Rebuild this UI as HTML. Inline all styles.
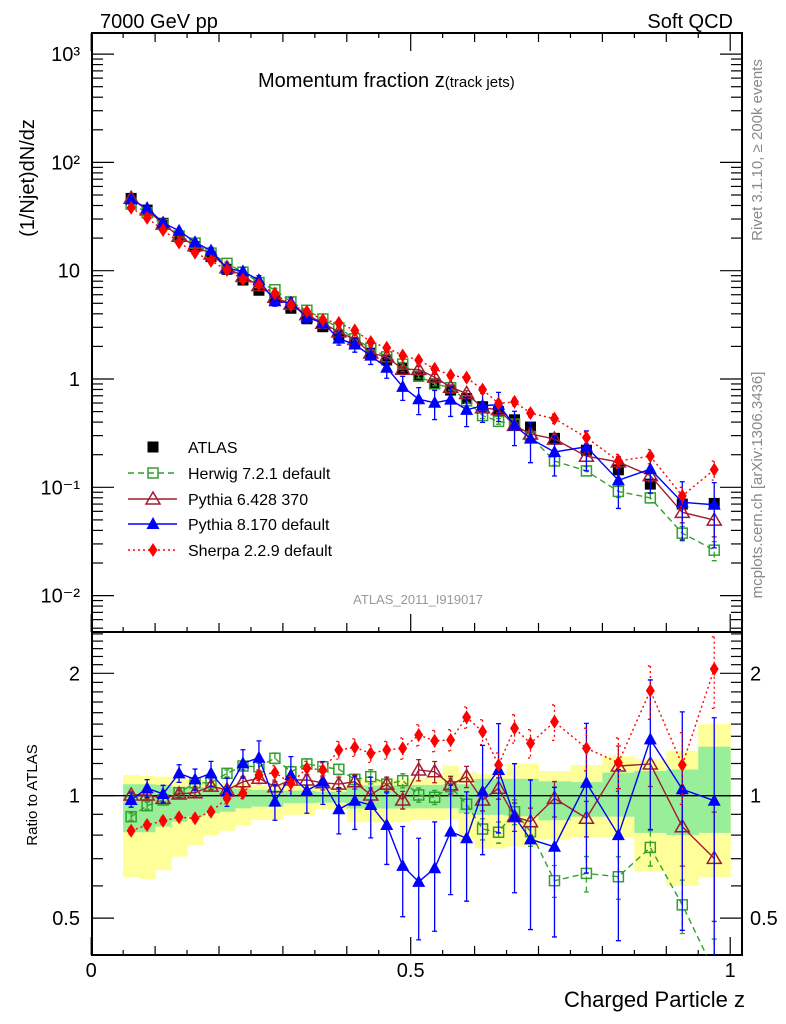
<!DOCTYPE html>
<html><head><meta charset="utf-8">
<style>
html,body{margin:0;padding:0;background:#fff;}
svg{display:block;font-family:"Liberation Sans",sans-serif;}
</style></head>
<body>
<svg id="chart" width="786" height="1024" viewBox="0 0 786 1024" xmlns="http://www.w3.org/2000/svg">
<defs>
<clipPath id="clipMain"><rect x="92" y="33" width="650" height="599"/></clipPath>
<clipPath id="clipRatio"><rect x="92" y="632" width="650" height="323"/></clipPath>
</defs>
<text x="100" y="28" font-size="20">7000 GeV pp</text>
<text x="733" y="28" font-size="20" text-anchor="end">Soft QCD</text>
<text x="258" y="87" font-size="20">Momentum fraction z<tspan font-size="15">(track jets)</tspan></text>
<text transform="translate(34,178) rotate(-90)" font-size="20" text-anchor="middle">(1/Njet)dN/dz</text>
<text transform="translate(762,150) rotate(-90)" font-size="15" fill="#888" text-anchor="middle">Rivet 3.1.10, ≥ 200k events</text>
<text transform="translate(762,485) rotate(-90)" font-size="15" fill="#888" text-anchor="middle">mcplots.cern.ch [arXiv:1306.3436]</text>
<text x="418" y="604" font-size="13" fill="#999" text-anchor="middle">ATLAS_2011_I919017</text>
<text transform="translate(37,795) rotate(-90)" font-size="15" text-anchor="middle">Ratio to ATLAS</text>
<text x="745" y="1007" font-size="22" text-anchor="end">Charged Particle z</text>
<g id="layer"></g>
</svg>
<script>
const xCenters = [0.0625,0.0875,0.1125,0.1375,0.1625,0.1875,0.2125,0.2375,0.2625,0.2875,0.3125,0.3375,0.3625,0.3875,0.4125,0.4375,0.4625,0.4875,0.5125,0.5375,0.5625,0.5875,0.6125,0.6375,0.6625,0.6875,0.725,0.775,0.825,0.875,0.925,0.975];
const xHalfWidths = [0.0125,0.0125,0.0125,0.0125,0.0125,0.0125,0.0125,0.0125,0.0125,0.0125,0.0125,0.0125,0.0125,0.0125,0.0125,0.0125,0.0125,0.0125,0.0125,0.0125,0.0125,0.0125,0.0125,0.0125,0.0125,0.0125,0.025,0.025,0.025,0.025,0.025,0.025];
const atlasValues = [46.5,36.3,27.4,20.6,16.7,13.5,10.3,8.2,6.6,5.4,4.5,3.6,3.04,2.55,2.14,1.73,1.5,1.26,1.06,0.91,0.79,0.66,0.555,0.5,0.42,0.36,0.283,0.22,0.145,0.107,0.07,0.071];
const bandYellowLow = [0.63,0.624,0.656,0.708,0.756,0.8,0.82,0.847,0.871,0.871,0.897,0.897,0.926,0.926,0.86,0.86,0.86,0.86,0.871,0.871,0.871,0.778,0.742,0.742,0.75,0.75,0.78,0.79,0.79,0.65,0.6,0.63];
const bandYellowHigh = [1.124,1.118,1.114,1.104,1.093,1.082,1.076,1.073,1.063,1.063,1.056,1.056,1.052,1.052,1.1,1.1,1.1,1.1,1.104,1.104,1.185,1.14,1.13,1.13,1.2,1.2,1.15,1.19,1.25,1.23,1.29,1.5];
const bandGreenLow = [0.813,0.813,0.839,0.863,0.888,0.905,0.913,0.931,0.94,0.94,0.958,0.958,0.961,0.961,0.93,0.93,0.93,0.93,0.931,0.931,0.931,0.905,0.897,0.897,0.89,0.89,0.87,0.888,0.888,0.81,0.8,0.81];
const bandGreenHigh = [1.067,1.067,1.063,1.052,1.052,1.046,1.043,1.039,1.033,1.033,1.029,1.029,1.023,1.023,1.06,1.06,1.06,1.06,1.063,1.063,1.067,1.067,1.1,1.1,1.1,1.1,1.085,1.08,1.14,1.15,1.16,1.32];
const herwigRatio = [0.888,0.945,0.976,1.017,1.076,1.076,1.135,1.183,1.178,1.236,1.145,1.197,1.178,1.161,1.097,1.114,1.068,1.089,1.004,0.991,1.052,0.953,0.828,0.813,0.913,0.816,0.618,0.644,0.632,0.746,0.539,0.37];
const herwigErr = [0.02,0.02,0.02,0.02,0.02,0.02,0.02,0.02,0.02,0.03,0.03,0.03,0.03,0.03,0.03,0.04,0.04,0.04,0.04,0.04,0.05,0.05,0.06,0.06,0.07,0.08,0.09,0.1,0.12,0.1,0.15,0.2];
const pythia6Ratio = [1.004,1.004,0.985,1.01,1.017,1.056,1.033,1.082,1.104,1.052,1.093,1.093,1.076,1.068,1.082,1.004,1.068,0.976,1.157,1.145,1.063,1.114,0.976,1.043,0.888,0.863,0.985,0.88,1.183,1.197,0.839,0.701];
const pythia6Err = [0.02,0.02,0.02,0.02,0.02,0.02,0.02,0.03,0.03,0.03,0.03,0.03,0.04,0.04,0.04,0.04,0.04,0.05,0.06,0.06,0.05,0.06,0.06,0.06,0.08,0.08,0.1,0.1,0.12,0.12,0.2,0.3];
const pythia8Ratio = [0.976,1.043,1.01,1.135,1.097,1.135,1.023,1.201,1.24,0.967,1.124,1.029,1.082,0.926,0.972,0.949,0.847,0.672,0.614,0.663,0.816,0.786,1.023,1.157,0.888,0.781,0.749,1.076,0.8,1.376,1.037,0.972];
const pythia8Err = [0.04,0.05,0.05,0.05,0.06,0.07,0.08,0.08,0.1,0.1,0.11,0.12,0.12,0.13,0.15,0.17,0.2,0.25,0.28,0.3,0.3,0.3,0.3,0.3,0.35,0.4,0.4,0.4,0.45,0.4,0.55,0.6];
const sherpaRatio = [0.82,0.847,0.868,0.885,0.88,0.913,0.985,1.014,1.124,1.139,1.073,1.168,1.157,1.295,1.315,1.271,1.295,1.308,1.41,1.365,1.371,1.559,1.437,1.19,1.465,1.346,1.52,1.308,1.206,1.813,1.19,2.05];
const sherpaErr = [0.02,0.02,0.02,0.02,0.02,0.02,0.03,0.03,0.03,0.04,0.04,0.04,0.04,0.05,0.05,0.05,0.05,0.06,0.06,0.06,0.06,0.06,0.07,0.07,0.08,0.08,0.1,0.12,0.15,0.15,0.2,0.2];
const mainTickLabels = ["10⁻²","10⁻¹","1","10","10²","10³"];
const mainTickValues = [0.01,0.1,1,10,100,1000];
const ratioTickLabels = ["0.5","1","2"];
const ratioTickValues = [0.5,1,2];
const xTickLabels = ["0","0.5","1"];
const xTickValues = [0,0.5,1];

const NS = "http://www.w3.org/2000/svg";
const layer = document.getElementById('layer');
const X0 = 92, X1 = 742, MT = 33, MB = 632, RB = 955;
function xS(v){ return 91.2 + v*639; }
function yM(v){ return 379 - 108.3*Math.log10(v); }
function yR(r){ return 795.7 - 122.4*Math.log2(r); }
function mk(tag, attrs, parent){
  const e = document.createElementNS(NS, tag);
  for (const k in attrs) e.setAttribute(k, attrs[k]);
  (parent||layer).appendChild(e);
  return e;
}

const gBand = mk('g', {'clip-path':'url(#clipRatio)'});


xCenters.forEach((c,i)=>{
  const xa = xS(c - xHalfWidths[i]), xb = xS(c + xHalfWidths[i]);
  const y = mk('rect', {x:xa, y:yR(bandYellowHigh[i]), width:xb-xa+0.5, height:yR(bandYellowLow[i])-yR(bandYellowHigh[i]), fill:'#ffff99'}, gBand);
  
  
});
xCenters.forEach((c,i)=>{
  const xa = xS(c - xHalfWidths[i]), xb = xS(c + xHalfWidths[i]);
  const g = mk('rect', {x:xa, y:yR(bandGreenHigh[i]), width:xb-xa+0.5, height:yR(bandGreenLow[i])-yR(bandGreenHigh[i]), fill:'#99ee99'}, gBand);
  
  
});
const refLine = mk('line', {x1:X0, x2:X1, y1:yR(1), y2:yR(1), stroke:'#000', 'stroke-width':1.3});



const frame = mk('rect', {x:X0, y:MT, width:X1-X0, height:RB-MT, fill:'none', stroke:'#000', 'stroke-width':2});


const sep = mk('line', {x1:X0, x2:X1, y1:MB, y2:MB, stroke:'#000', 'stroke-width':2});



const gTicks = mk('g', {stroke:'#000', 'stroke-width':1.2});


for (let d=-3; d<=3; d++){
  for (let m=1; m<=9; m++){
    const v = m*Math.pow(10,d); const y = yM(v);
    if (y < MT || y > MB) continue;
    const L = m===1 ? 22 : 11;
    mk('line', {x1:X0, x2:X0+L, y1:y, y2:y}, gTicks);
    mk('line', {x1:X1-L, x2:X1, y1:y, y2:y}, gTicks);
  }
}
for (let k=4; k<=25; k++){
  const rv = k/10; const y = yR(rv);
  if (y < MB || y > RB) continue;
  const L = (k===5||k===10||k===20) ? 22 : 11;
  mk('line', {x1:X0, x2:X0+L, y1:y, y2:y}, gTicks);
  mk('line', {x1:X1-L, x2:X1, y1:y, y2:y}, gTicks);
}
for (let k=0; k<=20; k++){
  const v = k*0.05; const x = xS(v);
  const L = (k%10===0) ? 18 : (k%2===0 ? 9 : 5);
  mk('line', {x1:x, x2:x, y1:RB, y2:RB-L}, gTicks);
  mk('line', {x1:x, x2:x, y1:MB, y2:MB-L}, gTicks);
  mk('line', {x1:x, x2:x, y1:MT, y2:MT+L}, gTicks);
}
mainTickLabels.forEach((t,i)=>{
  const y = yM(mainTickValues[i]);
  const txt = mk('text', {x:80, y:y+7, 'font-size':20, 'text-anchor':'end'});
  txt.textContent = t;
  
  
});
ratioTickLabels.forEach((t,i)=>{
  const y = yR(ratioTickValues[i]);
  const a = mk('text', {x:80, y:y+7, 'font-size':20, 'text-anchor':'end'});
  a.textContent = t;
  
  
  const b = mk('text', {x:750, y:y+7, 'font-size':20, 'text-anchor':'start'});
  b.textContent = t;
  
  
});
xTickLabels.forEach((t,i)=>{
  const tx = mk('text', {x:xS(xTickValues[i]), y:977, 'font-size':20, 'text-anchor':'middle'});
  tx.textContent = t;
  
  
});

function marker(type, x, y, color, parent){
  let e;
  if (type==='sq') e = mk('rect', {x:x-5, y:y-5, width:10, height:10, fill:'none', stroke:color, 'stroke-width':1.5}, parent);
  else if (type==='box') e = mk('rect', {x:x-5.5, y:y-5.5, width:11, height:11, fill:color}, parent);
  else if (type==='otri') e = mk('polygon', {points:`${x},${y-7} ${x-7},${y+5} ${x+7},${y+5}`, fill:'none', stroke:color, 'stroke-width':1.5}, parent);
  else if (type==='tri') e = mk('polygon', {points:`${x},${y-7} ${x-6.5},${y+5} ${x+6.5},${y+5}`, fill:color}, parent);
  else e = mk('polygon', {points:`${x},${y-7} ${x-4.5},${y} ${x},${y+7} ${x+4.5},${y}`, fill:color}, parent);
  return e;
}

const series = [
  {name:'herwig', ratio:herwigRatio, err:herwigErr, color:'#33a02c', dash:'6,4', mk:'sq'},
  {name:'pythia6', ratio:pythia6Ratio, err:pythia6Err, color:'#a01c32', dash:'', mk:'otri'},
  {name:'pythia8', ratio:pythia8Ratio, err:pythia8Err, color:'#0000ff', dash:'', mk:'tri'},
  {name:'sherpa', ratio:sherpaRatio, err:sherpaErr, color:'#ff0000', dash:'2,3', mk:'dia'}
];

const gAtlas = mk('g', {'clip-path':'url(#clipMain)'});


atlasValues.forEach((v,i)=>{
  const p = marker('box', xS(xCenters[i]), yM(v), '#000', gAtlas);
  
  
});

series.forEach(s=>{
  ['main','ratio'].forEach(panel=>{
    const g = mk('g', {'clip-path': panel==='main'?'url(#clipMain)':'url(#clipRatio)'});
    
    
    const yf = panel==='main' ? ((i)=>yM(atlasValues[i]*s.ratio[i])) : ((i)=>yR(s.ratio[i]));
    const yv = panel==='main' ? ((i,f)=>yM(atlasValues[i]*s.ratio[i]*f)) : ((i,f)=>yR(s.ratio[i]*f));
    const pts = xCenters.map((c,i)=>`${xS(c)},${yf(i)}`).join(' ');
    const line = mk('polyline', {points:pts, fill:'none', stroke:s.color, 'stroke-width':1.4, 'stroke-dasharray':s.dash}, g);
    
    
    xCenters.forEach((c,i)=>{
      const x = xS(c);
      const ya = yv(i, 1+s.err[i]), yb = yv(i, Math.max(0.05, 1-s.err[i]));
      const eb = mk('path', {d:`M${x},${ya}L${x},${yb}M${x-2.5},${ya}L${x+2.5},${ya}M${x-2.5},${yb}L${x+2.5},${yb}`, stroke:s.color, 'stroke-width':1.3, fill:'none', 'stroke-dasharray':s.dash}, g);
      
      
      const m = marker(s.mk, x, yf(i), s.color, g);
      
      
    });
  });
});

const legendLabels = ['ATLAS','Herwig 7.2.1 default','Pythia 6.428 370','Pythia 8.170 default','Sherpa 2.2.9 default'];
const legendY = [447,473,499,524,550];
const gLeg = mk('g', {});


legendLabels.forEach((t,i)=>{
  const y = legendY[i];
  if (i===0) {
    const b = marker('box', 153, y, '#000', gLeg);
    
    
  } else {
    const s = series[i-1];
    const l = mk('line', {x1:128, x2:177, y1:y, y2:y, stroke:s.color, 'stroke-width':1.4, 'stroke-dasharray':s.dash}, gLeg);
    
    
    const m = marker(s.mk, 153, y, s.color, gLeg);
    
    
  }
  const tx = mk('text', {x:188, y:y+6, 'font-size':16}, gLeg);
  tx.textContent = t;
  
  
});
</script>
</body></html>
